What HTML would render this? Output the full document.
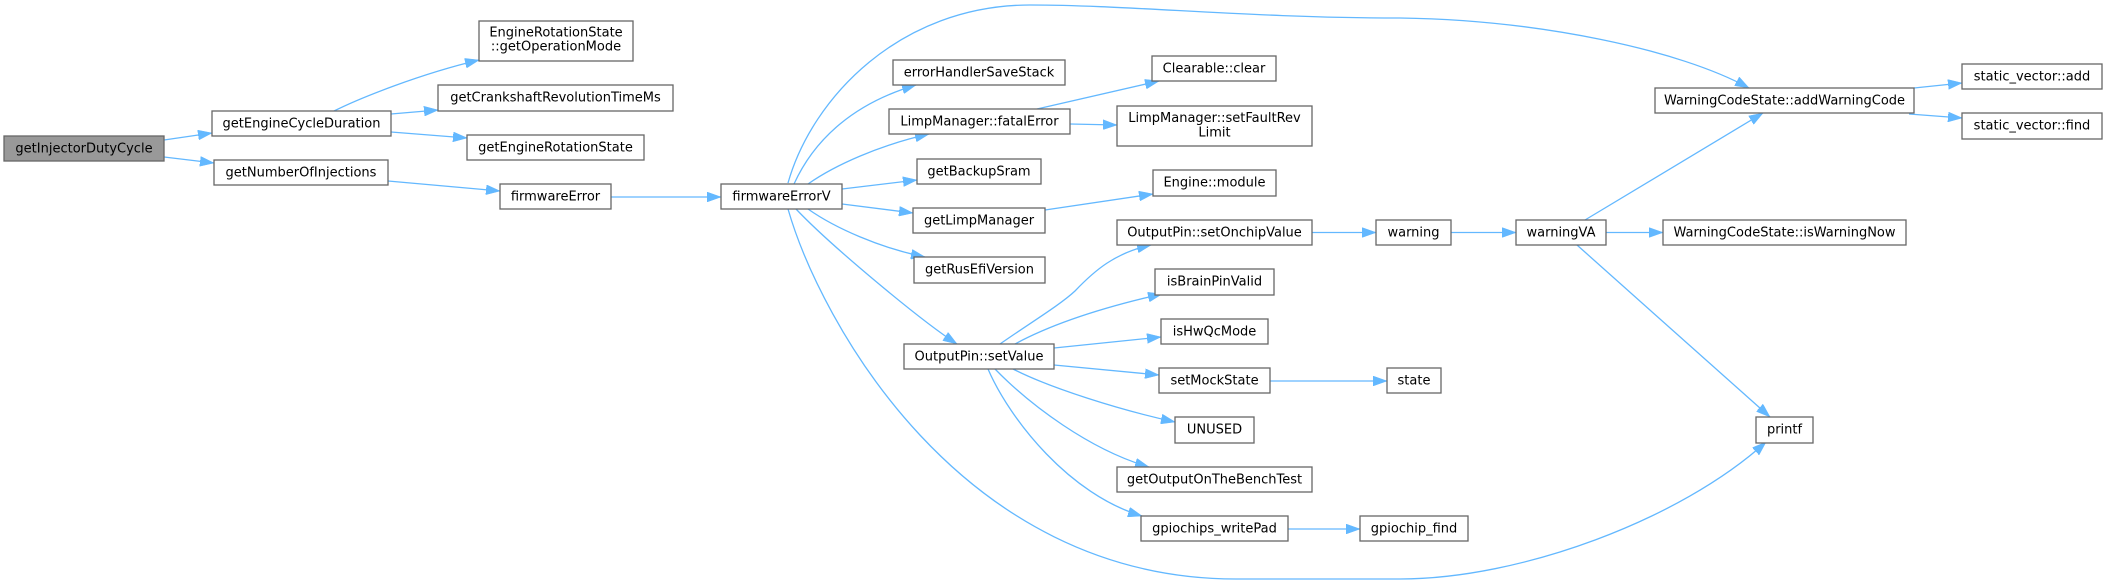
<!DOCTYPE html>
<html>
<head>
<meta charset="utf-8">
<style>
html,body{margin:0;padding:0;background:#fff;}
svg{display:block;}
text{font-family:"DejaVu Sans","Liberation Sans",sans-serif;font-size:13px;fill:#000;text-anchor:middle;}
.n{fill:#fff;stroke:#666;stroke-width:1.3;}
.s{fill:#999;stroke:#666;stroke-width:1.3;}
.e{fill:none;stroke:#63b8ff;stroke-width:1.3;}
</style>
</head>
<body>
<svg width="2107" height="585" viewBox="0 0 2107 585" xmlns="http://www.w3.org/2000/svg">
<defs>
<marker id="a" markerUnits="userSpaceOnUse" markerWidth="14" markerHeight="10" viewBox="0 0 13.3 9.4" refX="13.3" refY="4.7" orient="auto">
<path d="M0,0 L13.3,4.7 L0,9.4 z" fill="#63b8ff" stroke="#63b8ff" stroke-width="0.5"/>
</marker>
</defs>

<!-- edges -->
<g class="edges">
<path class="e" marker-end="url(#a)" d="M164,140 L212,133"/>
<path class="e" marker-end="url(#a)" d="M164,157 L214,163"/>
<path class="e" marker-end="url(#a)" d="M334,111 C360,98 420,74 479,60"/>
<path class="e" marker-end="url(#a)" d="M391,114 L438,110"/>
<path class="e" marker-end="url(#a)" d="M391,132 L467,138"/>
<path class="e" marker-end="url(#a)" d="M388,181 L500,191"/>
<path class="e" marker-end="url(#a)" d="M611,197 L721,197"/>
<!-- firmwareErrorV -->
<path class="e" marker-end="url(#a)" d="M794,184 C815,138 855,103 916,85"/>
<path class="e" marker-end="url(#a)" d="M808,184 C835,165 880,145 929,134"/>
<path class="e" marker-end="url(#a)" d="M842,189 L917,180"/>
<path class="e" marker-end="url(#a)" d="M842,204 L913,213"/>
<path class="e" marker-end="url(#a)" d="M808,209 C835,228 880,248 925,257"/>
<path class="e" marker-end="url(#a)" d="M796,209 C830,245 920,320 957,344"/>
<path class="e" marker-end="url(#a)" d="M788,209 C820,320 960,579 1236,579 L1400,579 C1520,579 1680,520 1766,442"/>
<path class="e" marker-end="url(#a)" d="M788,183 C812,98 900,5 1030,5 C1130,5 1250,18 1400,18 C1540,20 1680,50 1749,88"/>
<!-- limp -->
<path class="e" marker-end="url(#a)" d="M1037,109 L1159,81"/>
<path class="e" marker-end="url(#a)" d="M1070,124 L1117,125"/>
<path class="e" marker-end="url(#a)" d="M1045,210 L1153,194"/>
<!-- setValue -->
<path class="e" marker-end="url(#a)" d="M1000,344 C1030,323 1060,305 1075,291 C1095,270 1115,253 1151,245"/>
<path class="e" marker-end="url(#a)" d="M1015,344 C1050,325 1100,308 1162,294"/>
<path class="e" marker-end="url(#a)" d="M1054,348 L1161,337"/>
<path class="e" marker-end="url(#a)" d="M1054,365 L1159,375"/>
<path class="e" marker-end="url(#a)" d="M1013,369 C1050,388 1120,410 1175,422"/>
<path class="e" marker-end="url(#a)" d="M995,369 C1030,405 1090,450 1149,467"/>
<path class="e" marker-end="url(#a)" d="M988,369 C1010,420 1070,495 1142,516"/>
<path class="e" marker-end="url(#a)" d="M1270,381 L1387,381"/>
<path class="e" marker-end="url(#a)" d="M1288,529 L1360,529"/>
<!-- warning chain -->
<path class="e" marker-end="url(#a)" d="M1312,232.5 L1376,232.5"/>
<path class="e" marker-end="url(#a)" d="M1451,232.5 L1516,232.5"/>
<path class="e" marker-end="url(#a)" d="M1585,220 L1763,113"/>
<path class="e" marker-end="url(#a)" d="M1606,232.5 L1663,232.5"/>
<path class="e" marker-end="url(#a)" d="M1577,245 L1770,417"/>
<path class="e" marker-end="url(#a)" d="M1914,88 L1962,83"/>
<path class="e" marker-end="url(#a)" d="M1909,114 L1962,118"/>
</g>

<!-- nodes -->
<g class="nodes">
<rect class="s" x="4" y="136" width="160" height="25"/>
<text x="84" y="152.3">getInjectorDutyCycle</text>

<rect class="n" x="212" y="111" width="179" height="25"/>
<text x="301.5" y="127.3">getEngineCycleDuration</text>

<rect class="n" x="214" y="160" width="174" height="25"/>
<text x="301" y="176.3">getNumberOfInjections</text>

<rect class="n" x="479" y="21" width="154" height="40"/>
<text x="556" y="36.7">EngineRotationState</text>
<text x="556" y="50.7">::getOperationMode</text>

<rect class="n" x="438" y="85" width="235" height="26"/>
<text x="555.5" y="101.5">getCrankshaftRevolutionTimeMs</text>

<rect class="n" x="467" y="135" width="177" height="25"/>
<text x="555.5" y="151.3">getEngineRotationState</text>

<rect class="n" x="500" y="184" width="111" height="25"/>
<text x="555.5" y="200.3">firmwareError</text>

<rect class="n" x="721" y="184" width="121" height="25"/>
<text x="781.5" y="200.3">firmwareErrorV</text>

<rect class="n" x="893" y="60" width="172" height="25"/>
<text x="979" y="76.3">errorHandlerSaveStack</text>

<rect class="n" x="889" y="109" width="181" height="25"/>
<text x="979.5" y="125.3">LimpManager::fatalError</text>

<rect class="n" x="917" y="159" width="124" height="25"/>
<text x="979" y="175.3">getBackupSram</text>

<rect class="n" x="913" y="208" width="132" height="25"/>
<text x="979" y="224.3">getLimpManager</text>

<rect class="n" x="914" y="257" width="131" height="26"/>
<text x="979.5" y="273.5">getRusEfiVersion</text>

<rect class="n" x="1152" y="56" width="124" height="25"/>
<text x="1214" y="72.3">Clearable::clear</text>

<rect class="n" x="1117" y="106" width="195" height="40"/>
<text x="1214.5" y="122">LimpManager::setFaultRev</text>
<text x="1214.5" y="136.3">Limit</text>

<rect class="n" x="1153" y="170" width="123" height="26"/>
<text x="1214.5" y="186.5">Engine::module</text>

<rect class="n" x="1117" y="220" width="195" height="25"/>
<text x="1214.5" y="236.3">OutputPin::setOnchipValue</text>

<rect class="n" x="1155" y="269" width="119" height="26"/>
<text x="1214.5" y="285.5">isBrainPinValid</text>

<rect class="n" x="1376" y="220" width="75" height="25"/>
<text x="1413.5" y="236.3">warning</text>

<rect class="n" x="1516" y="220" width="90" height="25"/>
<text x="1561" y="236.3">warningVA</text>

<rect class="n" x="1655" y="88" width="259" height="25"/>
<text x="1784.5" y="104.3">WarningCodeState::addWarningCode</text>

<rect class="n" x="1663" y="220" width="243" height="25"/>
<text x="1784.5" y="236.3">WarningCodeState::isWarningNow</text>

<rect class="n" x="1962" y="64" width="140" height="25"/>
<text x="2032" y="80.3">static_vector::add</text>

<rect class="n" x="1962" y="113" width="140" height="26"/>
<text x="2032" y="129.5">static_vector::find</text>

<rect class="n" x="904" y="344" width="150" height="25"/>
<text x="979" y="360.3">OutputPin::setValue</text>

<rect class="n" x="1161" y="319" width="107" height="25"/>
<text x="1214.5" y="335.3">isHwQcMode</text>

<rect class="n" x="1159" y="368" width="111" height="25"/>
<text x="1214.5" y="384.3">setMockState</text>

<rect class="n" x="1387" y="368" width="54" height="25"/>
<text x="1414" y="384.3">state</text>

<rect class="n" x="1175" y="417" width="79" height="26"/>
<text x="1214.5" y="433.5">UNUSED</text>

<rect class="n" x="1117" y="467" width="195" height="25"/>
<text x="1214.5" y="483.3">getOutputOnTheBenchTest</text>

<rect class="n" x="1141" y="516" width="147" height="25"/>
<text x="1214.5" y="532.3">gpiochips_writePad</text>

<rect class="n" x="1360" y="516" width="108" height="25"/>
<text x="1414" y="532.3">gpiochip_find</text>

<rect class="n" x="1756" y="417" width="57" height="26"/>
<text x="1784.5" y="433.5">printf</text>
</g>
</svg>
</body>
</html>
